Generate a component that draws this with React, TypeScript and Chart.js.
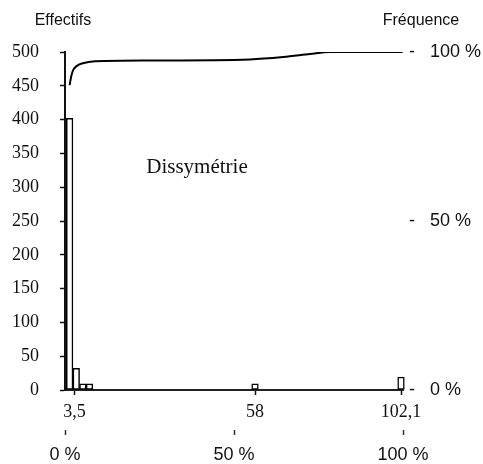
import React, { useEffect, useRef } from "react";
import { Chart, registerables } from "chart.js";

Chart.register(...registerables);

// Histogram bins (centre value on the "Effectifs" axis)
const binCentres = [2, 4, 6, 8, 58, 102.1];
const binCounts = [402, 32, 9, 9, 9, 19];

// Cumulative frequency curve (%)
const curveX = [2, 2.5, 3.1, 4.2, 5.7, 9.7, 26, 56.5, 66.5, 74.6, 80.6, 102.6];
const curveY = [90.2, 92.9, 94.7, 95.9, 96.6, 97.3, 97.5, 97.8, 98.5, 99.4, 100, 100];

// Tick labels
const xTickValues = [3.5, 58, 102.1];
const yTickStep = 50;
const pctTickValues = [0, 50, 100];

const titleLeft = "Effectifs";
const titleRight = "Fréquence";
const annotation = "Dissymétrie";

const SERIF = "'Liberation Serif', 'DejaVu Serif', serif";
const SANS = "'Liberation Sans', Arial, sans-serif";

const textPlugin = {
  id: "extraTexts",
  afterDraw(chart: any) {
    const { ctx, chartArea } = chart;
    ctx.save();
    ctx.fillStyle = "#111";
    ctx.textBaseline = "middle";
    ctx.textAlign = "center";
    ctx.font = `16px ${SANS}`;
    ctx.fillText(titleLeft, chartArea.left - 2, 21);
    ctx.fillText(titleRight, chartArea.right + 18, 21);
    ctx.font = `21px ${SERIF}`;
    ctx.fillText(annotation, chartArea.left + 132, 167);
    ctx.restore();
  },
};

export default function App() {
  const ref = useRef<HTMLCanvasElement | null>(null);
  useEffect(() => {
    if (!ref.current) return;
    const chart = new Chart(ref.current, {
      type: "bar",
      data: {
        datasets: [
          {
            type: "line",
            data: curveX.map((x, i) => ({ x, y: curveY[i] })),
            xAxisID: "x",
            yAxisID: "y2",
            borderColor: "#000",
            borderWidth: 2,
            pointRadius: 0,
            cubicInterpolationMode: "monotone",
            fill: false,
          } as any,
          {
            type: "bar",
            data: binCentres.map((x, i) => ({ x, y: binCounts[i] })),
            xAxisID: "x",
            yAxisID: "y",
            backgroundColor: "#fff",
            borderColor: "#000",
            borderWidth: 1.5,
            borderSkipped: false,
            barPercentage: 1,
            categoryPercentage: 1,
            clip: false,
          } as any,
        ],
      },
      options: {
        responsive: false,
        animation: false,
        layout: { padding: { top: 52, left: 0, right: 0, bottom: 0 } },
        plugins: { legend: { display: false }, tooltip: { enabled: false } },
        scales: {
          x: {
            type: "linear",
            position: "bottom",
            min: 0.6,
            max: 102.7,
            offset: false,
            afterBuildTicks: (scale: any) => {
              scale.ticks = xTickValues.map((v) => ({ value: v }));
            },
            afterFit: (scale: any) => {
              scale.height = 40;
            },
            ticks: {
              autoSkip: false,
              maxRotation: 0,
              padding: 6,
              color: "#111",
              font: { family: SERIF, size: 18 },
              callback: (v: any) => String(v).replace(".", ","),
            },
            grid: {
              offset: false,
              drawOnChartArea: false,
              drawTicks: true,
              tickLength: 5,
              tickColor: "#111",
              tickWidth: 1.5,
            },
            border: { display: true, color: "#222", width: 2 },
          } as any,
          x2: {
            type: "linear",
            position: "bottom",
            min: 0,
            max: 100,
            offset: false,
            afterBuildTicks: (scale: any) => {
              scale.ticks = pctTickValues.map((v) => ({ value: v }));
            },
            afterFit: (scale: any) => {
              scale.height = 34;
            },
            ticks: {
              autoSkip: false,
              maxRotation: 0,
              padding: 9,
              color: "#111",
              font: { family: SANS, size: 18 },
              callback: (v: any) => `${v} %`,
            },
            grid: {
              offset: false,
              drawOnChartArea: false,
              drawTicks: true,
              tickLength: 5,
              tickColor: "#333",
              tickWidth: 1.5,
            },
            border: { display: false },
          } as any,
          y: {
            type: "linear",
            position: "left",
            min: 0,
            max: 500,
            afterFit: (scale: any) => {
              scale.width = 65;
            },
            ticks: {
              stepSize: yTickStep,
              padding: 21,
              color: "#111",
              font: { family: SERIF, size: 18 },
            },
            grid: {
              drawOnChartArea: false,
              drawTicks: true,
              tickLength: 5,
              tickColor: "#111",
              tickWidth: 1.5,
            },
            border: { display: true, color: "#111", width: 2 },
          } as any,
          y2: {
            type: "linear",
            position: "right",
            min: 0,
            max: 100,
            afterBuildTicks: (scale: any) => {
              scale.ticks = pctTickValues.map((v) => ({ value: v }));
            },
            afterFit: (scale: any) => {
              scale.width = 80;
            },
            ticks: {
              padding: 6,
              color: "#111",
              font: { family: SANS, size: 18 },
              callback: (v: any) => `-   ${v} %`,
            },
            grid: { display: false, drawTicks: false },
            border: { display: false },
          } as any,
        },
      } as any,
      plugins: [textPlugin],
    });
    return () => chart.destroy();
  }, []);

  return (
    <div style={{ position: "fixed", left: 0, top: 0, width: 483, height: 464, background: "#fff" }}>
      <canvas ref={ref} width={483} height={464} />
    </div>
  );
}
